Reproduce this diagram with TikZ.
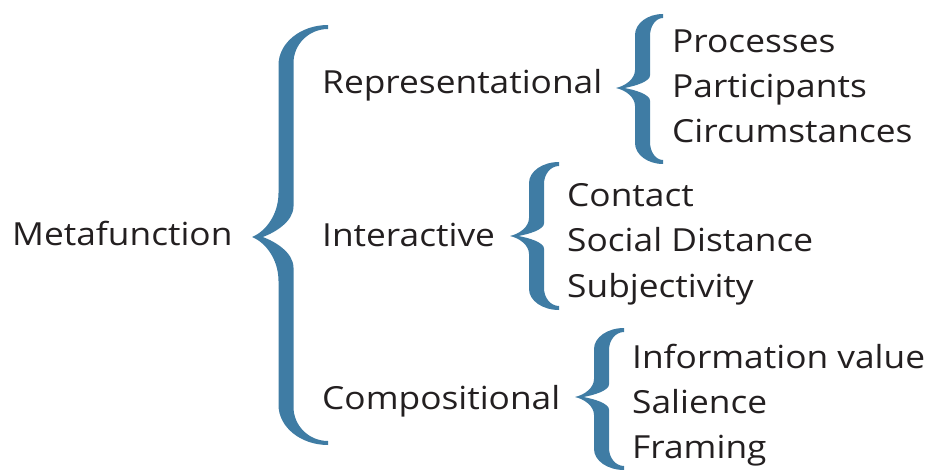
\documentclass[tikz,border=0pt]{standalone}
\usepackage{fontspec}
\setmainfont{Open Sans}[FakeStretch=1.11]
\definecolor{bracecol}{HTML}{3F7CA4}
\definecolor{txtcol}{HTML}{231F20}
\newcommand\curlybr[8]{%
  \pgfmathsetmacro\cbXe{#1}%
  \pgfmathsetmacro\cbYt{#2}%
  \pgfmathsetmacro\cbYb{#3}%
  \pgfmathsetmacro\cbYm{#4}%
  \pgfmathsetmacro\cbXs{#5}%
  \pgfmathsetmacro\cbXt{#6}%
  \pgfmathsetmacro\cbCa{#7}%
  \pgfmathsetmacro\cbCb{#8}%
  \pgfmathsetmacro\cbH{7.5}%
  \pgfmathsetmacro\cbT{4}%
  \pgfmathsetmacro\cbO{\cbXs-\cbH}%
  \pgfmathsetmacro\cbI{\cbXs+\cbH}%
  \pgfmathsetmacro\cbN{\cbXt+0.32*(\cbXs-\cbXt)}%
  \pgfmathsetmacro\cbCai{0.85*\cbCa}%
  \pgfmathsetmacro\cbCbi{0.7*\cbCb}%
  \fill[bracecol]
   (\cbXe,\cbYt)
   .. controls ({\cbXe-0.552*(\cbXe-\cbO)},\cbYt) and (\cbO,{\cbYt+0.448*\cbCa}) .. (\cbO,{\cbYt+\cbCa})
   -- (\cbO,{\cbYm-\cbCb})
   .. controls (\cbO,{\cbYm-0.5*\cbCb}) and ({\cbXt+0.5*(\cbO-\cbXt)},{\cbYm-0.12*\cbCb}) .. (\cbXt,\cbYm)
   .. controls ({\cbXt+0.5*(\cbO-\cbXt)},{\cbYm+0.12*\cbCb}) and (\cbO,{\cbYm+0.5*\cbCb}) .. (\cbO,{\cbYm+\cbCb})
   -- (\cbO,{\cbYb-\cbCa})
   .. controls (\cbO,{\cbYb-0.448*\cbCa}) and ({\cbXe-0.552*(\cbXe-\cbO)},\cbYb) .. (\cbXe,\cbYb)
   -- (\cbXe,{\cbYb-\cbT})
   .. controls ({\cbXe-0.552*(\cbXe-\cbI)},{\cbYb-\cbT}) and (\cbI,{\cbYb-\cbT-0.448*\cbCai}) .. (\cbI,{\cbYb-\cbT-\cbCai})
   -- (\cbI,{\cbYm+\cbCbi})
   .. controls (\cbI,{\cbYm+0.5*\cbCbi}) and ({\cbN+0.4*(\cbI-\cbN)},{\cbYm+0.15*\cbCbi}) .. (\cbN,\cbYm)
   .. controls ({\cbN+0.4*(\cbI-\cbN)},{\cbYm-0.15*\cbCbi}) and (\cbI,{\cbYm-0.5*\cbCbi}) .. (\cbI,{\cbYm-\cbCbi})
   -- (\cbI,{\cbYt+\cbT+\cbCai})
   .. controls (\cbI,{\cbYt+\cbT+0.448*\cbCai}) and ({\cbXe-0.552*(\cbXe-\cbI)},{\cbYt+\cbT}) .. (\cbXe,{\cbYt+\cbT})
   -- cycle;
}
\tikzset{lbl/.style={anchor=base west, inner sep=0pt, text=txtcol, font=\fontsize{31.8}{38}\selectfont}}
\begin{document}
\begin{tikzpicture}[x=1pt,y=-1pt]
\useasboundingbox (0,0) rectangle (931,470);
% braces
\curlybr{328}{25}{445}{237}{286}{252}{40}{44}
\curlybr{663}{14}{164}{88}{642.5}{616}{21}{18}
\curlybr{559}{162}{310}{236}{536.5}{510}{21}{18}
\curlybr{624}{328}{470}{397}{601.5}{575}{21}{18}
% texts
\node[lbl] (meta) at (12,245.5) {Metafunction};
\node[lbl] (rep) at (322,94) {Representational};
\node[lbl] (inter) at (322,247) {Interactive};
\node[lbl] (comp) at (322,409) {Compositional};
\node[lbl] (proc) at (672,53) {Processes};
\node[lbl] (part) at (672,98) {Participants};
\node[lbl] (circ) at (672,143) {Circumstances};
\node[lbl] (cont) at (567,207) {Contact};
\node[lbl] (soc) at (567,252) {Social Distance};
\node[lbl] (subj) at (567,297) {Subjectivity};
\node[lbl] (info) at (632,368) {Information value};
\node[lbl] (sal) at (632,413) {Salience};
\node[lbl] (fram) at (632,458) {Framing};
\end{tikzpicture}
\end{document}
